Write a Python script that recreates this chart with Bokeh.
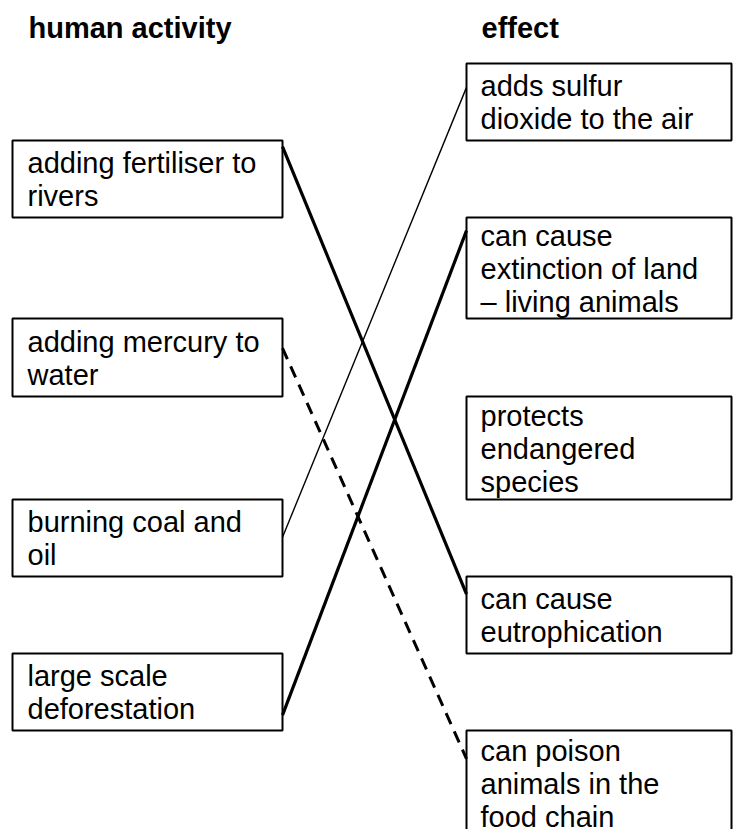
from bokeh.plotting import figure
from bokeh.models import Range1d, ColumnDataSource
from bokeh.core.properties import value
from bokeh.embed import file_html
from bokeh.resources import INLINE

# ---------------- data ----------------
header_left = "human activity"
header_right = "effect"

activities = [
    ["adding fertiliser to", "rivers"],
    ["adding mercury to", "water"],
    ["burning coal and", "oil"],
    ["large scale", "deforestation"],
]

effects = [
    ["adds sulfur", "dioxide to the air"],
    ["can cause", "extinction of land", "\u2013 living animals"],
    ["protects", "endangered", "species"],
    ["can cause", "eutrophication"],
    ["can poison", "animals in the", "food chain"],
]

# matches: activity index -> effect index, and the line style used
match_from = [0, 1, 2, 3]
match_to = [3, 4, 0, 1]
match_style = ["thick", "dashed", "thin", "thick"]

# ---------------- layout ----------------
W, H = 733, 829
FONT = value("Liberation Sans")
FS = "29px"
LINE_H = 33
BASE_OFF = 0.5

left_x = (12, 282)
left_tops = [140, 318, 499, 653]
left_bots = [217, 396, 576, 730]
right_x = (466, 731)
right_tops = [63, 217, 396, 576, 730]
right_bots = [140, 318, 499, 653, 836]
left_text_x = 27
right_text_x = 480
header_y = 27
header_x = [28, 481]

# where each connector touches its boxes (fraction of box height)
start_frac = [0.08, 0.38, 0.49, 0.80]
end_frac = [0.23, 0.28, 0.31, 0.13]

styles = {
    "thick": dict(line_width=3.2, line_dash="solid"),
    "thin": dict(line_width=1.4, line_dash="solid"),
    "dashed": dict(line_width=3.0, line_dash="12 8"),
}

p = figure(width=W, height=H, x_range=Range1d(0, W), y_range=Range1d(H, 0),
           output_backend="svg", toolbar_location=None,
           x_axis_location=None, y_axis_location=None, min_border=0)
p.min_border_left = p.min_border_right = p.min_border_top = p.min_border_bottom = 0
p.grid.visible = False
p.outline_line_color = None
p.background_fill_color = "white"
p.border_fill_color = "white"

# boxes
p.quad(left=[left_x[0]] * len(activities), right=[left_x[1]] * len(activities),
       top=left_tops, bottom=left_bots, fill_color=None, line_color="black", line_width=2)
p.quad(left=[right_x[0]] * len(effects), right=[right_x[1]] * len(effects),
       top=right_tops, bottom=right_bots, fill_color=None, line_color="black", line_width=2)

# box texts
tx, ty, tt = [], [], []
def add_lines(lines, x, top, bot):
    c = (top + bot) / 2.0
    n = len(lines)
    for i, s in enumerate(lines):
        tx.append(x)
        ty.append(c + BASE_OFF + (i - (n - 1) / 2.0) * LINE_H)
        tt.append(s)

for lines, t, b in zip(activities, left_tops, left_bots):
    add_lines(lines, left_text_x, t, b)
for lines, t, b in zip(effects, right_tops, right_bots):
    add_lines(lines, right_text_x, t, b)

p.text(x=tx, y=ty, text=tt, text_font=FONT, text_font_size=FS,
       text_baseline="alphabetic", text_align="left", text_color="black")

# headers
p.text(x=header_x, y=[header_y, header_y], text=[header_left, header_right],
       text_font=FONT, text_font_size=FS, text_font_style="bold",
       text_baseline="alphabetic", text_align="left", text_color="black")

# connectors
for k, (a, e, st) in enumerate(zip(match_from, match_to, match_style)):
    y0 = left_tops[a] + start_frac[k] * (left_bots[a] - left_tops[a])
    y1 = right_tops[e] + end_frac[k] * (min(right_bots[e], right_tops[e] + 101) - right_tops[e])
    src = ColumnDataSource(dict(x0=[left_x[1]], y0=[y0], x1=[right_x[0]], y1=[y1]))
    p.segment(x0="x0", y0="y0", x1="x1", y1="y1", source=src, line_color="black",
              line_cap="butt", **styles[st])

open("out.html", "w").write(file_html(p, INLINE))
